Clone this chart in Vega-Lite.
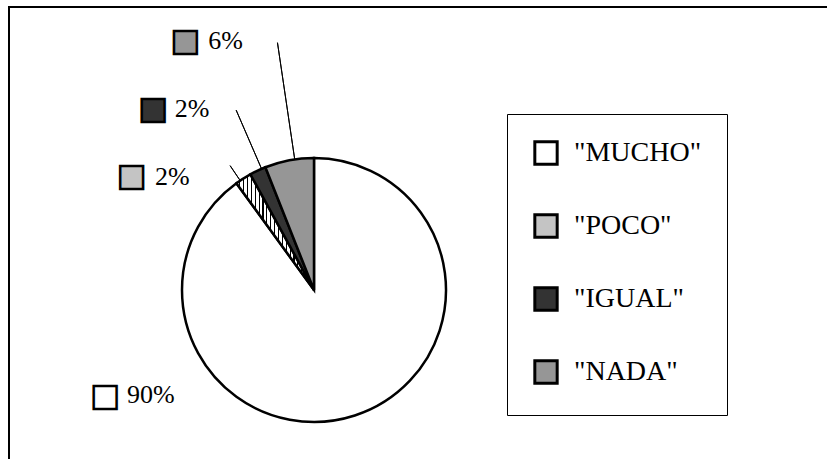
{
  "$schema": "https://vega.github.io/schema/vega-lite/v6.json",
  "width": 822,
  "height": 456,
  "autosize": "none",
  "padding": {"left": 9, "top": 7, "right": -4, "bottom": -4},
  "background": "white",
  "config": {
    "view": {"stroke": "black", "strokeWidth": 2}
  },
  "data": {
    "values": [
      {"categoria": "\"MUCHO\"", "valor": 0.90, "orden": 1},
      {"categoria": "\"POCO\"", "valor": 0.02, "orden": 2},
      {"categoria": "\"IGUAL\"", "valor": 0.02, "orden": 3},
      {"categoria": "\"NADA\"", "valor": 0.06, "orden": 4}
    ]
  },
  "encoding": {
    "theta": {"field": "valor", "type": "quantitative", "stack": true},
    "order": {"field": "orden", "type": "quantitative"},
    "detail": {"field": "categoria"},
    "color": {
      "field": "categoria",
      "type": "nominal",
      "scale": {
        "domain": ["\"MUCHO\"", "\"POCO\"", "\"IGUAL\"", "\"NADA\""],
        "range": ["#ffffff", "#c4c4c4", "#333333", "#969696"]
      },
      "legend": {
        "orient": "none",
        "legendX": 498,
        "legendY": 107,
        "title": null,
        "strokeColor": "black",
        "fillColor": "white",
        "padding": 25,
        "symbolType": "square",
        "symbolSize": 500,
        "symbolStrokeColor": "black",
        "symbolStrokeWidth": 3,
        "symbolOpacity": 1,
        "symbolFillColor": "white",
        "labelFont": "Liberation Serif",
        "labelFontSize": 28,
        "labelColor": "black",
        "labelOffset": 14,
        "rowPadding": 37
      }
    }
  },
  "layer": [
    {
      "mark": {"type": "point", "opacity": 0},
      "encoding": {
        "x": {"field": "orden", "type": "quantitative", "axis": null},
        "y": {"field": "valor", "type": "quantitative", "axis": null},
        "color": {"value": "transparent"}
      }
    },
    {
      "mark": {"type": "arc", "x": 305, "y": 283, "outerRadius": 132, "stroke": "black", "strokeWidth": 2.5},
      "encoding": {
        "color": {
          "field": "categoria",
          "type": "nominal",
          "condition": {
            "test": "datum.orden === 2",
            "value": {
              "gradient": "linear", "x1": 0, "x2": 1, "y1": 0, "y2": 0,
              "stops": [
                {"offset": 0.0, "color": "white"}, {"offset": 0.035, "color": "white"}, {"offset": 0.035, "color": "black"}, {"offset": 0.05, "color": "black"},
                {"offset": 0.05, "color": "white"}, {"offset": 0.085, "color": "white"}, {"offset": 0.085, "color": "black"}, {"offset": 0.10, "color": "black"},
                {"offset": 0.10, "color": "white"}, {"offset": 0.135, "color": "white"}, {"offset": 0.135, "color": "black"}, {"offset": 0.15, "color": "black"},
                {"offset": 0.15, "color": "white"}, {"offset": 0.185, "color": "white"}, {"offset": 0.185, "color": "black"}, {"offset": 0.20, "color": "black"},
                {"offset": 0.20, "color": "white"}, {"offset": 0.235, "color": "white"}, {"offset": 0.235, "color": "black"}, {"offset": 0.25, "color": "black"},
                {"offset": 0.25, "color": "white"}, {"offset": 0.285, "color": "white"}, {"offset": 0.285, "color": "black"}, {"offset": 0.30, "color": "black"},
                {"offset": 0.30, "color": "white"}, {"offset": 0.335, "color": "white"}, {"offset": 0.335, "color": "black"}, {"offset": 0.35, "color": "black"},
                {"offset": 0.35, "color": "white"}, {"offset": 0.385, "color": "white"}, {"offset": 0.385, "color": "black"}, {"offset": 0.40, "color": "black"},
                {"offset": 0.40, "color": "white"}, {"offset": 0.435, "color": "white"}, {"offset": 0.435, "color": "black"}, {"offset": 0.45, "color": "black"},
                {"offset": 0.45, "color": "white"}, {"offset": 0.485, "color": "white"}, {"offset": 0.485, "color": "black"}, {"offset": 0.50, "color": "black"},
                {"offset": 0.50, "color": "white"}, {"offset": 0.535, "color": "white"}, {"offset": 0.535, "color": "black"}, {"offset": 0.55, "color": "black"},
                {"offset": 0.55, "color": "white"}, {"offset": 0.585, "color": "white"}, {"offset": 0.585, "color": "black"}, {"offset": 0.60, "color": "black"},
                {"offset": 0.60, "color": "white"}, {"offset": 0.635, "color": "white"}, {"offset": 0.635, "color": "black"}, {"offset": 0.65, "color": "black"},
                {"offset": 0.65, "color": "white"}, {"offset": 0.685, "color": "white"}, {"offset": 0.685, "color": "black"}, {"offset": 0.70, "color": "black"},
                {"offset": 0.70, "color": "white"}, {"offset": 0.735, "color": "white"}, {"offset": 0.735, "color": "black"}, {"offset": 0.75, "color": "black"},
                {"offset": 0.75, "color": "white"}, {"offset": 0.785, "color": "white"}, {"offset": 0.785, "color": "black"}, {"offset": 0.80, "color": "black"},
                {"offset": 0.80, "color": "white"}, {"offset": 0.835, "color": "white"}, {"offset": 0.835, "color": "black"}, {"offset": 0.85, "color": "black"},
                {"offset": 0.85, "color": "white"}, {"offset": 0.885, "color": "white"}, {"offset": 0.885, "color": "black"}, {"offset": 0.90, "color": "black"},
                {"offset": 0.90, "color": "white"}, {"offset": 0.935, "color": "white"}, {"offset": 0.935, "color": "black"}, {"offset": 0.95, "color": "black"},
                {"offset": 0.95, "color": "white"}, {"offset": 1.0, "color": "white"}
              ]
            }
          }
        }
      }
    },
    {
      "mark": {"type": "arc", "x": 305, "y": 283, "innerRadius": 132, "outerRadius": 250, "padAngle": 1.5, "thetaOffset": 0.0419, "fill": null, "stroke": "black", "strokeWidth": 1},
      "encoding": {"color": {"value": null}, "opacity": {"condition": {"test": "datum.orden === 4", "value": 1}, "value": 0}}
    },
    {
      "mark": {"type": "arc", "x": 305, "y": 283, "innerRadius": 132, "outerRadius": 196, "padAngle": 1.5, "thetaOffset": 0.0314, "fill": null, "stroke": "black", "strokeWidth": 1},
      "encoding": {"color": {"value": null}, "opacity": {"condition": {"test": "datum.orden === 3", "value": 1}, "value": 0}}
    },
    {
      "mark": {"type": "arc", "x": 305, "y": 283, "innerRadius": 132, "outerRadius": 150, "padAngle": 1.5, "thetaOffset": -0.028, "fill": null, "stroke": "black", "strokeWidth": 1},
      "encoding": {"color": {"value": null}, "opacity": {"condition": {"test": "datum.orden === 2", "value": 1}, "value": 0}}
    },
    {
      "mark": {"type": "text", "x": 305, "y": 283, "radius": 250, "dx": -82, "dy": -3.5, "font": "DejaVu Sans", "fontSize": 30, "stroke": "black", "strokeWidth": 2.5, "align": "center", "baseline": "middle"},
      "encoding": {"text": {"value": "■"}, "opacity": {"condition": {"test": "datum.orden === 4", "value": 1}, "value": 0}}
    },
    {
      "mark": {"type": "text", "x": 305, "y": 283, "radius": 200, "dx": -76, "dy": 0, "font": "DejaVu Sans", "fontSize": 30, "stroke": "black", "strokeWidth": 2.5, "align": "center", "baseline": "middle"},
      "encoding": {"text": {"value": "■"}, "opacity": {"condition": {"test": "datum.orden === 3", "value": 1}, "value": 0}}
    },
    {
      "mark": {"type": "text", "x": 305, "y": 283, "radius": 140, "dx": -107.5, "dy": 4, "font": "DejaVu Sans", "fontSize": 30, "stroke": "black", "strokeWidth": 2.5, "align": "center", "baseline": "middle"},
      "encoding": {"text": {"value": "■"}, "opacity": {"condition": {"test": "datum.orden === 2", "value": 1}, "value": 0}}
    },
    {
      "mark": {"type": "text", "x": 305, "y": 283, "radius": 0, "dx": -209, "dy": 106, "font": "DejaVu Sans", "fontSize": 30, "stroke": "black", "strokeWidth": 2.5, "align": "center", "baseline": "middle"},
      "encoding": {"text": {"value": "■"}, "opacity": {"condition": {"test": "datum.orden === 1", "value": 1}, "value": 0}}
    },
    {
      "mark": {"type": "text", "x": 305, "y": 283, "radius": 250, "dx": -59, "dy": 4.5, "font": "Liberation Serif", "fontSize": 26, "align": "left", "baseline": "alphabetic"},
      "encoding": {"text": {"field": "valor", "type": "quantitative", "format": ".0%"}, "color": {"value": "black"}, "opacity": {"condition": {"test": "datum.orden === 4", "value": 1}, "value": 0}}
    },
    {
      "mark": {"type": "text", "x": 305, "y": 283, "radius": 200, "dx": -54, "dy": 8, "font": "Liberation Serif", "fontSize": 26, "align": "left", "baseline": "alphabetic"},
      "encoding": {"text": {"field": "valor", "type": "quantitative", "format": ".0%"}, "color": {"value": "black"}, "opacity": {"condition": {"test": "datum.orden === 3", "value": 1}, "value": 0}}
    },
    {
      "mark": {"type": "text", "x": 305, "y": 283, "radius": 140, "dx": -84, "dy": 13, "font": "Liberation Serif", "fontSize": 26, "align": "left", "baseline": "alphabetic"},
      "encoding": {"text": {"field": "valor", "type": "quantitative", "format": ".0%"}, "color": {"value": "black"}, "opacity": {"condition": {"test": "datum.orden === 2", "value": 1}, "value": 0}}
    },
    {
      "mark": {"type": "text", "x": 305, "y": 283, "radius": 0, "dx": -187, "dy": 113, "font": "Liberation Serif", "fontSize": 26, "align": "left", "baseline": "alphabetic"},
      "encoding": {"text": {"field": "valor", "type": "quantitative", "format": ".0%"}, "color": {"value": "black"}, "opacity": {"condition": {"test": "datum.orden === 1", "value": 1}, "value": 0}}
    }
  ]
}
